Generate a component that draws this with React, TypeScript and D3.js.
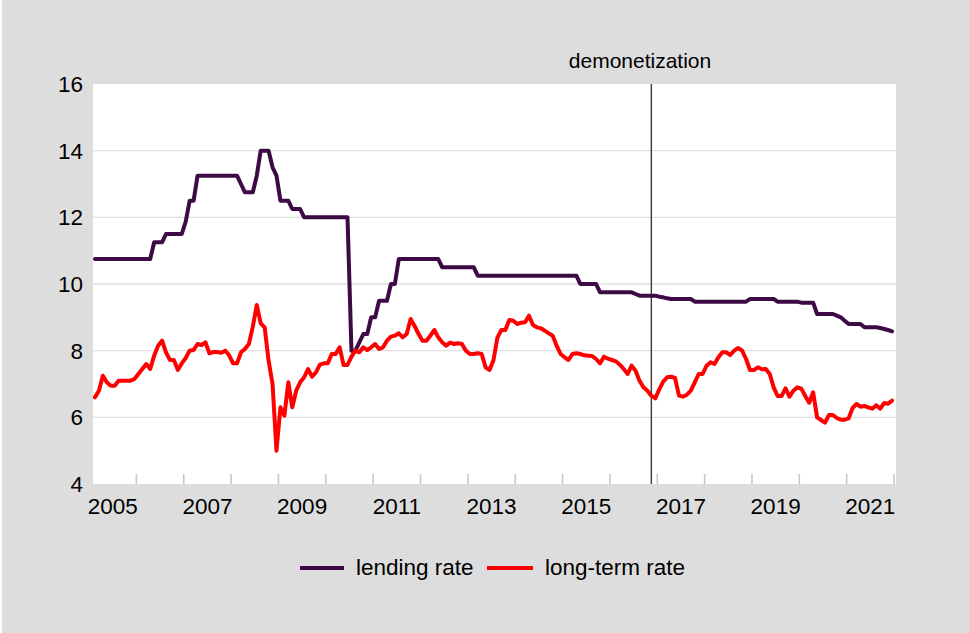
import React from 'react';
import * as d3 from 'd3';

// Monthly data, first observation = February 2005 (month index 1), last = December 2021 (index 203)
const START_YEAR = 2005;
const START_MONTH = 2;

const lendingRate: number[] = [
  // 2005 (Feb-Dec)
  10.75, 10.75, 10.75, 10.75, 10.75, 10.75, 10.75, 10.75, 10.75, 10.75, 10.75,
  // 2006
  10.75, 10.75, 10.75, 10.75, 11.25, 11.25, 11.25, 11.5, 11.5, 11.5, 11.5, 11.5,
  // 2007
  11.875, 12.5, 12.5, 13.25, 13.25, 13.25, 13.25, 13.25, 13.25, 13.25, 13.25, 13.25,
  // 2008
  13.25, 13.25, 13.0, 12.75, 12.75, 12.75, 13.25, 14, 14, 14, 13.5, 13.25,
  // 2009
  12.5, 12.5, 12.5, 12.25, 12.25, 12.25, 12, 12, 12, 12, 12, 12,
  // 2010
  12, 12, 12, 12, 12, 12, 8, 8, 8.25, 8.5, 8.5, 9,
  // 2011
  9, 9.5, 9.5, 9.5, 10, 10, 10.75, 10.75, 10.75, 10.75, 10.75, 10.75,
  // 2012
  10.75, 10.75, 10.75, 10.75, 10.75, 10.5, 10.5, 10.5, 10.5, 10.5, 10.5, 10.5,
  // 2013
  10.5, 10.5, 10.25, 10.25, 10.25, 10.25, 10.25, 10.25, 10.25, 10.25, 10.25, 10.25,
  // 2014
  10.25, 10.25, 10.25, 10.25, 10.25, 10.25, 10.25, 10.25, 10.25, 10.25, 10.25, 10.25,
  // 2015
  10.25, 10.25, 10.25, 10.25, 10, 10, 10, 10, 10, 9.75, 9.75, 9.75,
  // 2016
  9.75, 9.75, 9.75, 9.75, 9.75, 9.75, 9.7, 9.65, 9.65, 9.65, 9.65, 9.65,
  // 2017
  9.62, 9.6, 9.57, 9.55, 9.55, 9.55, 9.55, 9.55, 9.55, 9.47, 9.47, 9.47,
  // 2018
  9.47, 9.47, 9.47, 9.47, 9.47, 9.47, 9.47, 9.47, 9.47, 9.47, 9.47, 9.55,
  // 2019
  9.55, 9.55, 9.55, 9.55, 9.55, 9.55, 9.47, 9.47, 9.47, 9.47, 9.47, 9.47,
  // 2020
  9.44, 9.44, 9.44, 9.44, 9.1, 9.1, 9.1, 9.1, 9.1, 9.05, 9.0, 8.9,
  // 2021
  8.8, 8.8, 8.8, 8.8, 8.7, 8.7, 8.7, 8.7, 8.68, 8.65, 8.62, 8.58,
];

const longTermRate: number[] = [
  // 2005 (Feb-Dec)
  6.6, 6.8, 7.25, 7.05, 6.95, 6.95, 7.1, 7.1, 7.1, 7.1, 7.15,
  // 2006
  7.3, 7.45, 7.6, 7.45, 7.85, 8.15, 8.3, 7.95, 7.72, 7.72, 7.42, 7.62,
  // 2007
  7.78, 8.0, 8.02, 8.2, 8.17, 8.25, 7.92, 7.96, 7.96, 7.94, 8.0, 7.86,
  // 2008
  7.62, 7.62, 7.95, 8.05, 8.2, 8.72, 9.37, 8.82, 8.7, 7.7, 7.0, 5.0,
  // 2009
  6.3, 6.05, 7.05, 6.3, 6.8, 7.05, 7.2, 7.45, 7.22, 7.35, 7.58, 7.62,
  // 2010
  7.62, 7.9, 7.9, 8.1, 7.57, 7.57, 7.82, 8.0, 7.95, 8.1, 8.02, 8.1,
  // 2011
  8.2, 8.05, 8.1, 8.3, 8.42, 8.45, 8.52, 8.4, 8.5, 8.95, 8.74, 8.5,
  // 2012
  8.3, 8.3, 8.45, 8.62, 8.4, 8.25, 8.15, 8.24, 8.2, 8.22, 8.2, 8.0,
  // 2013
  7.9, 7.9, 7.92, 7.9, 7.5, 7.42, 7.72, 8.4, 8.62, 8.62, 8.92, 8.9,
  // 2014
  8.8, 8.84, 8.85, 9.05, 8.77, 8.7, 8.67, 8.6, 8.52, 8.45, 8.15, 7.9,
  // 2015
  7.8, 7.72, 7.9, 7.92, 7.9, 7.86, 7.85, 7.84, 7.75, 7.62, 7.82, 7.76,
  // 2016
  7.72, 7.68, 7.58, 7.45, 7.3, 7.55, 7.4, 7.1, 6.9, 6.8, 6.65, 6.57,
  // 2017
  6.84, 7.07, 7.2, 7.22, 7.18, 6.65, 6.62, 6.68, 6.8, 7.05, 7.3, 7.3,
  // 2018
  7.55, 7.65, 7.6, 7.8, 7.95, 7.95, 7.87, 8.0, 8.08, 8.0, 7.75, 7.42,
  // 2019
  7.42, 7.5, 7.44, 7.45, 7.3, 6.9, 6.64, 6.64, 6.87, 6.62, 6.8, 6.9,
  // 2020
  6.86, 6.64, 6.44, 6.75, 6.0, 5.92, 5.84, 6.07, 6.07, 5.98, 5.93, 5.93,
  // 2021
  5.97, 6.28, 6.4, 6.32, 6.34, 6.3, 6.26, 6.36, 6.26, 6.43, 6.41, 6.5,
];

const yTicks = [4, 6, 8, 10, 12, 14, 16];
const yGridValues = [6, 8, 10, 12, 14];
const xLabelYears = [2005, 2007, 2009, 2011, 2013, 2015, 2017, 2019, 2021];
const xTickYears = [2006, 2007, 2008, 2009, 2010, 2011, 2012, 2013, 2014, 2015, 2016, 2017, 2018, 2019, 2020, 2021, 2022];
const seriesNames = ['lending rate', 'long-term rate'];
const seriesColors = ['#3E0A45', '#FF0000'];
const eventLabel = 'demonetization';
const eventYear = 2016;
const eventMonth = 11;

const W = 969;
const H = 633;
const plot = { left: 93, right: 896, top: 84, bottom: 484 };
const FONT = '"Liberation Sans", Arial, sans-serif';

// month index: Jan 2005 = 0, Feb 2005 = 1 ...
const monthIndex = (year: number, month: number) => (year - START_YEAR) * 12 + (month - 1);
const firstIdx = monthIndex(START_YEAR, START_MONTH);

export default function App() {
  const x = d3.scaleLinear().domain([firstIdx - 0.5, 204]).range([plot.left, plot.right]);
  const y = d3.scaleLinear().domain([4, 16]).range([plot.bottom, plot.top]);

  const line = d3
    .line<number>()
    .x((_, i) => x(firstIdx + i))
    .y((d) => y(d));

  const series = [lendingRate, longTermRate];
  const evX = x(monthIndex(eventYear, eventMonth));

  return (
    <div style={{ position: 'absolute', left: 0, top: 0 }}>
      <svg width={W} height={H} style={{ display: 'block' }}>
        <rect x={0} y={0} width={W} height={H} fill="#FFFFFF" />
        <rect x={2} y={0} width={W - 2} height={H} fill="#DDDDDD" />
        <rect
          x={plot.left}
          y={plot.top}
          width={plot.right - plot.left}
          height={plot.bottom - plot.top}
          fill="#FFFFFF"
        />
        {yGridValues.map((v) => (
          <line
            key={'g' + v}
            x1={plot.left}
            x2={plot.right}
            y1={y(v)}
            y2={y(v)}
            stroke="#E0E0E0"
            strokeWidth={1.3}
          />
        ))}
        {xTickYears.map((yr) => {
          const tx = x(monthIndex(yr, 1) - 0.5);
          return (
            <line
              key={'t' + yr}
              x1={tx}
              x2={tx}
              y1={plot.bottom - 10}
              y2={plot.bottom}
              stroke="#C8C8C8"
              strokeWidth={1.6}
            />
          );
        })}
        {yTicks.map((v) => (
          <text
            key={'yl' + v}
            x={83}
            y={y(v) + 8}
            textAnchor="end"
            fontFamily={FONT}
            fontSize={22.5}
            fill="#000"
          >
            {v}
          </text>
        ))}
        {xLabelYears.map((yr) => (
          <text
            key={'xl' + yr}
            x={x(monthIndex(yr, 1) + 5.5)}
            y={513.5}
            textAnchor="middle"
            fontFamily={FONT}
            fontSize={22.5}
            fill="#000"
          >
            {yr}
          </text>
        ))}
        <line x1={evX} x2={evX} y1={plot.top} y2={plot.bottom} stroke="#3A3A3A" strokeWidth={1.4} />
        <text x={640} y={68} textAnchor="middle" fontFamily={FONT} fontSize={21} fill="#000">
          {eventLabel}
        </text>
        {series.map((s, i) => (
          <path
            key={'s' + i}
            d={line(s) || ''}
            fill="none"
            stroke={seriesColors[i]}
            strokeWidth={4}
            strokeLinejoin="round"
            strokeLinecap="round"
          />
        ))}
        {/* legend */}
        <line x1={300} x2={344} y1={568} y2={568} stroke={seriesColors[0]} strokeWidth={4} />
        <text x={356} y={575} fontFamily={FONT} fontSize={22.5} fill="#000">
          {seriesNames[0]}
        </text>
        <line x1={487} x2={533} y1={568} y2={568} stroke={seriesColors[1]} strokeWidth={4} />
        <text x={545} y={575} fontFamily={FONT} fontSize={22.5} fill="#000">
          {seriesNames[1]}
        </text>
      </svg>
    </div>
  );
}
